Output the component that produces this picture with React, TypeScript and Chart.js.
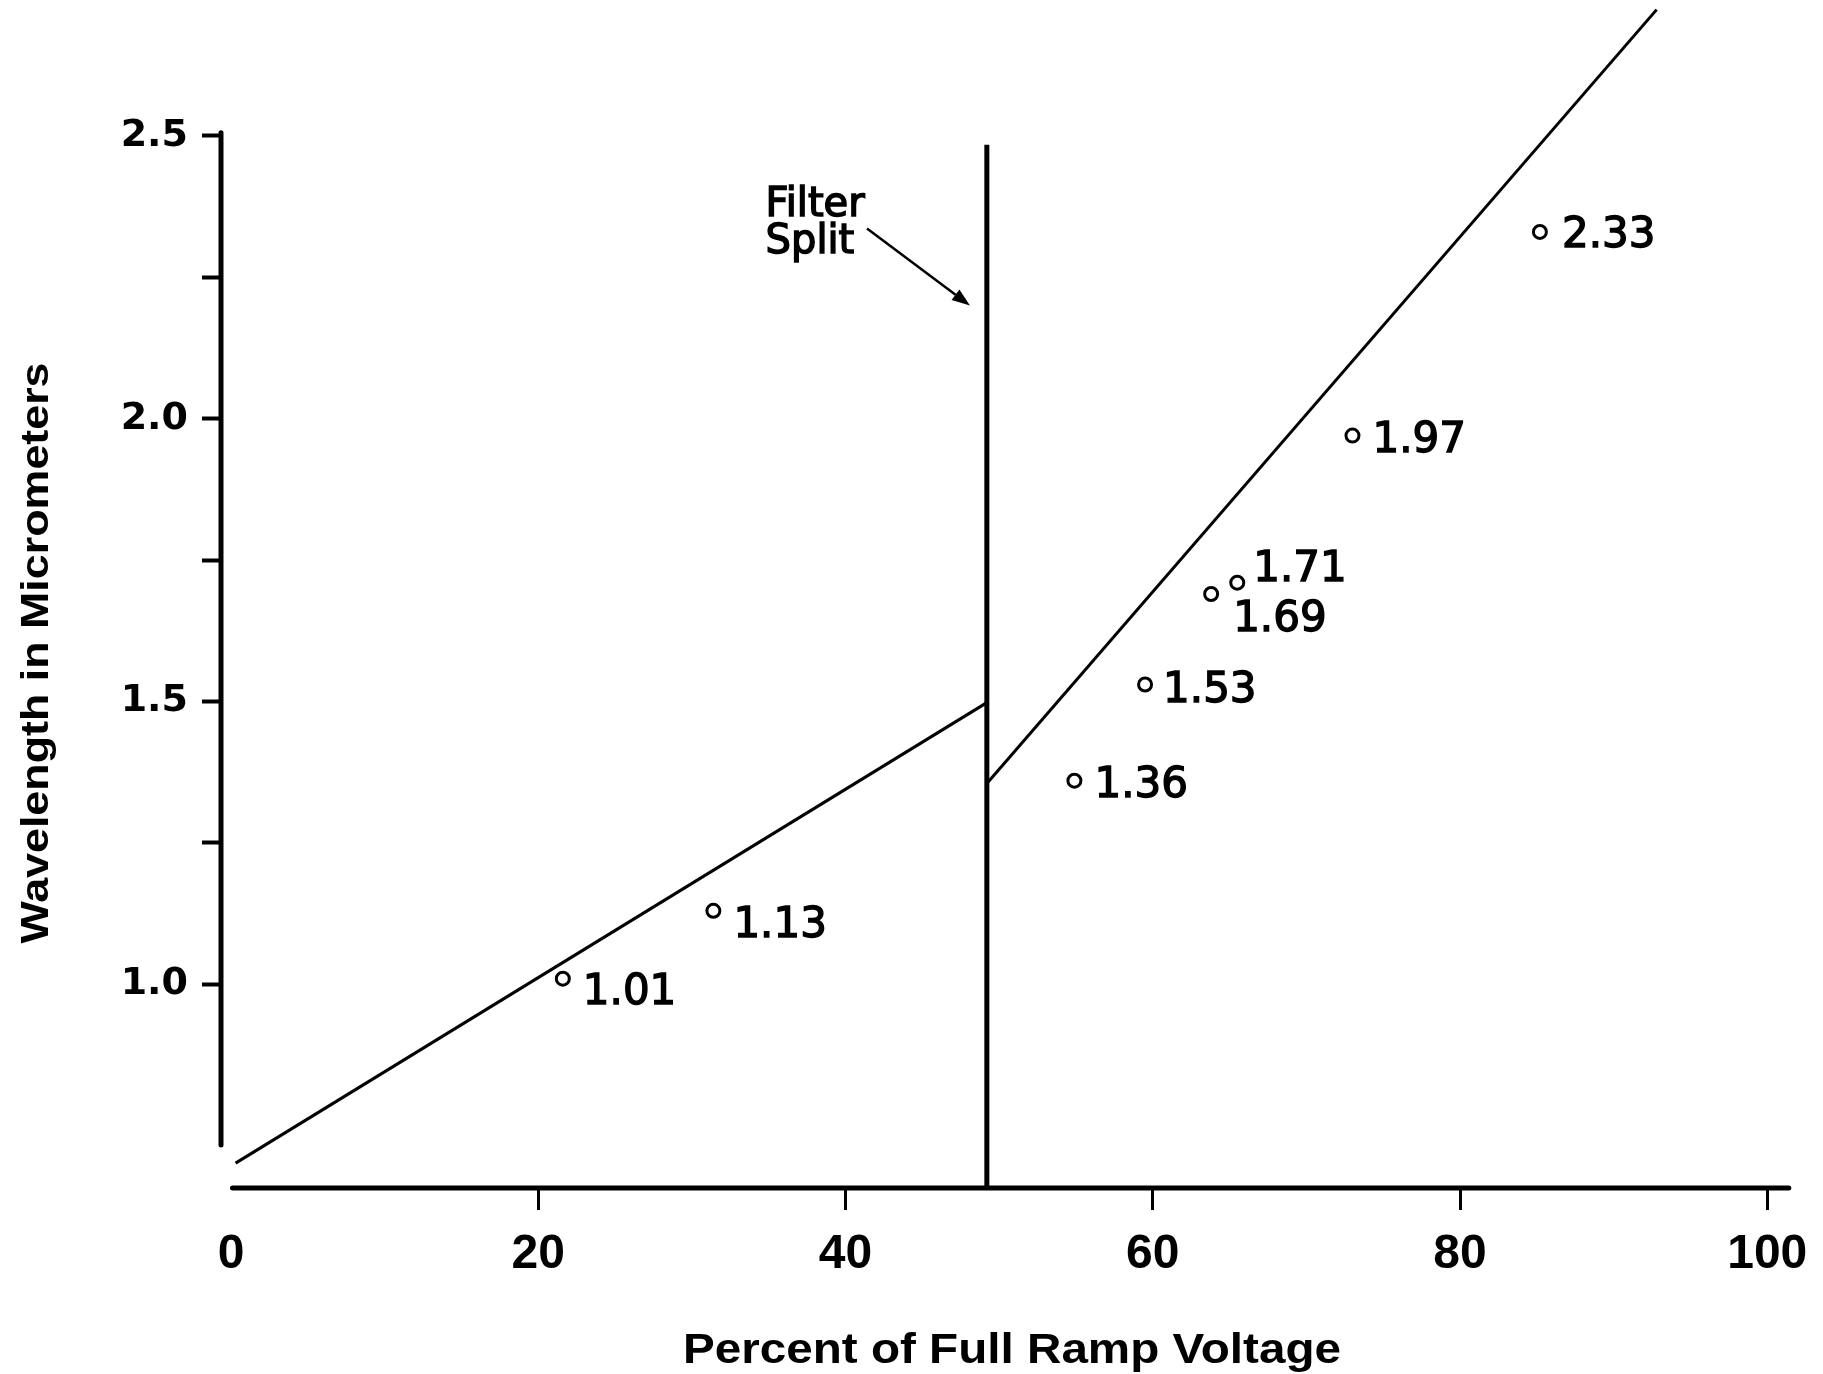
import React, { useEffect, useRef } from "react";
import { Chart, registerables } from "chart.js";

Chart.register(...registerables);

// Calibration points: percent of full ramp voltage vs. wavelength (µm)
const RAMP_PERCENT = [21.6, 31.4, 54.9, 59.5, 63.8, 65.5, 73.0, 85.2];
const WAVELENGTH_UM = [1.01, 1.13, 1.36, 1.53, 1.69, 1.71, 1.97, 2.33];

// Calibration segments on either side of the filter split
const LOW_BAND_X = [0.3, 49.2];
const LOW_BAND_Y = [0.684, 1.498];
const HIGH_BAND_X = [49.2, 92.8];
const HIGH_BAND_Y = [1.355, 2.723];
const SPLIT_X = [49.2, 49.2];
const SPLIT_Y = [0.64, 2.484];

// Axes
const X_TICKS = [0, 20, 40, 60, 80, 100];
const Y_TICKS = [1.0, 1.25, 1.5, 1.75, 2.0, 2.25, 2.5];
const Y_TICK_LABELS = ["1.0", "", "1.5", "", "2.0", "", "2.5"];
const X_AXIS_SPAN = [0.1, 101.4];
const Y_AXIS_SPAN = [0.716, 2.5];

const X_TITLE = "Percent of Full Ramp Voltage";
const Y_TITLE = "Wavelength in Micrometers";
const SPLIT_NOTE = ["Filter", "Split"];

// Annotation anchors (data units) and point-label offsets (px)
const NOTE_ANCHOR = { x: 34.8, y1: 2.359, y2: 2.293 };
const ARROW_FROM = { x: 41.4, y: 2.336 };
const ARROW_TO = { x: 48.1, y: 2.2 };
const LABEL_OFFSETS = [
  [20, 10],
  [20, 11],
  [20, 1],
  [18, 2],
  [22, 22],
  [16, -17],
  [20, 1],
  [22, 0],
];

const INK = "#000";
const W = 1823;
const H = 1374;

const toPoints = (xs: number[], ys: number[]) => xs.map((x, i) => ({ x, y: ys[i] }));

function drawFitted(
  ctx: CanvasRenderingContext2D,
  text: string,
  width: number,
  font: string
) {
  ctx.font = font;
  const w = ctx.measureText(text).width;
  ctx.scale(width / w, 1);
  ctx.textAlign = "center";
  ctx.textBaseline = "alphabetic";
  ctx.fillText(text, 0, 0);
}

const decorPlugin = {
  id: "rampDecor",
  beforeDatasetsDraw(chart: any) {
    const { ctx, chartArea } = chart;
    const x = chart.scales.x;
    const y = chart.scales.y;
    ctx.save();
    ctx.strokeStyle = INK;
    ctx.lineWidth = 5;
    ctx.lineCap = "round";
    ctx.beginPath();
    ctx.moveTo(chartArea.left, y.getPixelForValue(Y_AXIS_SPAN[1]) - 3);
    ctx.lineTo(chartArea.left, y.getPixelForValue(Y_AXIS_SPAN[0]));
    ctx.stroke();
    ctx.beginPath();
    ctx.moveTo(x.getPixelForValue(X_AXIS_SPAN[0]), chartArea.bottom);
    ctx.lineTo(x.getPixelForValue(X_AXIS_SPAN[1]), chartArea.bottom);
    ctx.stroke();
    ctx.restore();
  },
  afterDatasetsDraw(chart: any) {
    const { ctx } = chart;
    const x = chart.scales.x;
    const y = chart.scales.y;
    ctx.save();
    ctx.fillStyle = INK;
    ctx.strokeStyle = INK;

    // value labels beside each calibration point
    const meta = chart.getDatasetMeta(3);
    ctx.font = "42px 'DejaVu Sans', sans-serif";
    ctx.textAlign = "left";
    ctx.textBaseline = "alphabetic";
    ctx.lineWidth = 1.4;
    meta.data.forEach((pt: any, i: number) => {
      const text = WAVELENGTH_UM[i].toFixed(2);
      const [dx, dy] = LABEL_OFFSETS[i];
      const tx = pt.x + dx;
      const ty = pt.y + dy + 15;
      ctx.fillText(text, tx, ty);
      ctx.strokeText(text, tx, ty);
    });

    // "Filter Split" note with arrow
    ctx.font = "40px 'DejaVu Sans', sans-serif";
    ctx.lineWidth = 1.5;
    const nx = x.getPixelForValue(NOTE_ANCHOR.x);
    ctx.fillText(SPLIT_NOTE[0], nx, y.getPixelForValue(NOTE_ANCHOR.y1));
    ctx.strokeText(SPLIT_NOTE[0], nx, y.getPixelForValue(NOTE_ANCHOR.y1));
    ctx.fillText(SPLIT_NOTE[1], nx, y.getPixelForValue(NOTE_ANCHOR.y2));
    ctx.strokeText(SPLIT_NOTE[1], nx, y.getPixelForValue(NOTE_ANCHOR.y2));

    const ax0 = x.getPixelForValue(ARROW_FROM.x);
    const ay0 = y.getPixelForValue(ARROW_FROM.y);
    const ax1 = x.getPixelForValue(ARROW_TO.x);
    const ay1 = y.getPixelForValue(ARROW_TO.y);
    const ang = Math.atan2(ay1 - ay0, ax1 - ax0);
    const headLen = 18;
    const headHalf = 6.5;
    const bx = ax1 - headLen * Math.cos(ang);
    const by = ay1 - headLen * Math.sin(ang);
    ctx.lineWidth = 2.5;
    ctx.beginPath();
    ctx.moveTo(ax0, ay0);
    ctx.lineTo(bx, by);
    ctx.stroke();
    ctx.beginPath();
    ctx.moveTo(ax1, ay1);
    ctx.lineTo(bx - headHalf * Math.sin(ang), by + headHalf * Math.cos(ang));
    ctx.lineTo(bx + headHalf * Math.sin(ang), by - headHalf * Math.cos(ang));
    ctx.closePath();
    ctx.fill();

    // axis titles
    ctx.save();
    ctx.translate(1012, 1363);
    drawFitted(ctx, X_TITLE, 658, "bold 42px 'Liberation Sans Narrow', 'Liberation Sans', sans-serif");
    ctx.restore();

    ctx.save();
    ctx.translate(48, 653);
    ctx.rotate(-Math.PI / 2);
    drawFitted(ctx, Y_TITLE, 581, "bold 39px 'Liberation Sans Narrow', 'Liberation Sans', sans-serif");
    ctx.restore();

    ctx.restore();
  },
};

export default function App() {
  const canvasRef = useRef<HTMLCanvasElement>(null);

  useEffect(() => {
    const canvas = canvasRef.current;
    if (!canvas) return;
    const chart = new Chart(canvas, {
      type: "scatter",
      data: {
        datasets: [
          {
            label: "Low band",
            data: toPoints(LOW_BAND_X, LOW_BAND_Y),
            showLine: true,
            borderColor: INK,
            borderWidth: 3,
            pointRadius: 0,
          },
          {
            label: "High band",
            data: toPoints(HIGH_BAND_X, HIGH_BAND_Y),
            showLine: true,
            borderColor: INK,
            borderWidth: 3,
            pointRadius: 0,
          },
          {
            label: "Filter split",
            data: toPoints(SPLIT_X, SPLIT_Y),
            showLine: true,
            borderColor: INK,
            borderWidth: 5,
            pointRadius: 0,
          },
          {
            label: "Calibration points",
            data: toPoints(RAMP_PERCENT, WAVELENGTH_UM),
            showLine: false,
            pointRadius: 6.5,
            pointBorderWidth: 3,
            pointBorderColor: INK,
            pointBackgroundColor: "#fff",
          },
        ],
      },
      options: {
        responsive: false,
        animation: false,
        events: [],
        layout: { autoPadding: false, padding: { left: 0, top: 0, right: 25, bottom: 0 } },
        plugins: {
          legend: { display: false },
          tooltip: { enabled: false },
        },
        scales: {
          x: {
            type: "linear",
            min: -0.65,
            max: 102,
            bounds: "data",
            border: { display: false },
            grid: {
              drawOnChartArea: false,
              drawTicks: true,
              tickLength: 22,
              tickWidth: 3,
              tickColor: (c: any) =>
                c.tick && c.tick.value === 0 ? "rgba(0,0,0,0)" : INK,
            },
            afterBuildTicks: (s: any) => {
              s.ticks = X_TICKS.map((v) => ({ value: v }));
            },
            ticks: {
              color: INK,
              padding: 16,
              maxRotation: 0,
              autoSkip: false,
              font: { family: "'Liberation Sans', sans-serif", size: 48, weight: "bold" },
              callback: (v: any) => String(v),
            },
            afterFit: (s: any) => {
              s.height = 186;
              s.paddingLeft = 0;
              s.paddingRight = 0;
            },
          },
          y: {
            type: "linear",
            min: 0.64,
            max: 2.74,
            bounds: "data",
            border: { display: false },
            grid: {
              drawOnChartArea: false,
              drawTicks: true,
              tickLength: 19,
              tickWidth: 4,
              tickColor: INK,
            },
            afterBuildTicks: (s: any) => {
              s.ticks = Y_TICKS.map((v) => ({ value: v }));
            },
            ticks: {
              color: INK,
              padding: 14,
              autoSkip: false,
              font: { family: "'DejaVu Sans', sans-serif", size: 38, weight: "bold" },
              callback: (v: any) => {
                const i = Y_TICKS.findIndex((t) => Math.abs(t - v) < 1e-6);
                return i >= 0 ? Y_TICK_LABELS[i] : "";
              },
            },
            afterFit: (s: any) => {
              s.width = 221;
              s.paddingTop = 0;
              s.paddingBottom = 0;
            },
          },
        },
      },
      plugins: [decorPlugin],
    });
    return () => chart.destroy();
  }, []);

  return (
    <div
      style={{
        position: "fixed",
        left: 0,
        top: 0,
        width: W,
        height: H,
        background: "#fff",
      }}
    >
      <canvas ref={canvasRef} width={W} height={H} style={{ display: "block" }} />
    </div>
  );
}
